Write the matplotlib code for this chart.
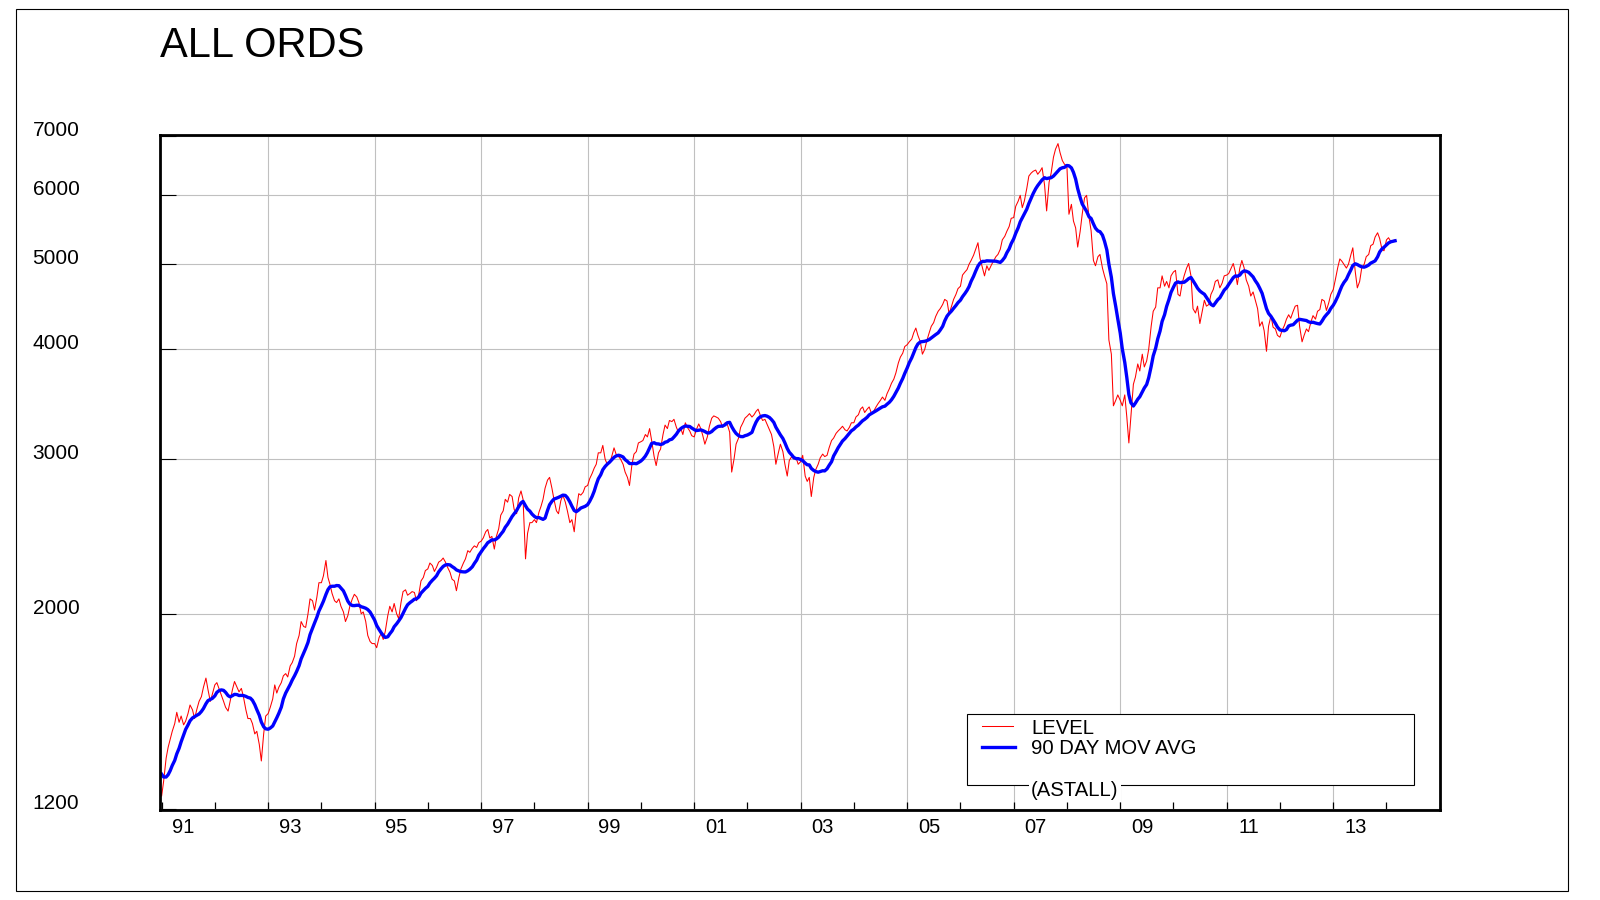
import datetime as dt
import matplotlib
matplotlib.use('Agg')
import matplotlib.pyplot as plt
import matplotlib.dates as mdates
import matplotlib.ticker as mticker
from matplotlib.lines import Line2D
from matplotlib.patches import Rectangle
import pandas as pd

plt.rcParams['font.family'] = ['Liberation Sans', 'DejaVu Sans']

## DADOS - leituras do indice ALL ORDS no dia 1 e 15 de cada mes (a partir de 15/08/1990)
lvl_1990 = [1390, 1370, 1330, 1300, 1290, 1320, 1310, 1300, 1290]
lvl_1991 = [1240, 1290, 1370, 1410, 1440, 1470, 1500, 1545, 1505, 1530, 1495, 1510,
            1540, 1575, 1555, 1520, 1560, 1590, 1610, 1650, 1690, 1640, 1590, 1620]
lvl_1992 = [1660, 1670, 1640, 1615, 1590, 1565, 1550, 1590, 1640, 1675, 1650, 1630,
            1645, 1610, 1555, 1520, 1520, 1500, 1460, 1470, 1420, 1360, 1460, 1530]
lvl_1993 = [1540, 1565, 1600, 1660, 1625, 1650, 1670, 1700, 1710, 1695, 1745, 1760,
            1790, 1850, 1890, 1960, 1935, 1930, 2000, 2080, 2070, 2020, 2090, 2170]
lvl_1994 = [2170, 2210, 2300, 2200, 2160, 2110, 2070, 2060, 2080, 2040, 2010, 1960,
            1990, 2040, 2080, 2105, 2090, 2060, 2000, 2010, 1960, 1890, 1860, 1850]
lvl_1995 = [1850, 1830, 1880, 1900, 1870, 1910, 1990, 2040, 2010, 2055, 2000, 1975,
            2060, 2120, 2130, 2100, 2110, 2120, 2115, 2070, 2110, 2180, 2200, 2240]
lvl_1996 = [2250, 2285, 2270, 2235, 2260, 2290, 2300, 2315, 2290, 2260, 2230, 2190,
            2180, 2125, 2200, 2250, 2285, 2310, 2360, 2350, 2375, 2390, 2380, 2410]
lvl_1997 = [2420, 2440, 2480, 2495, 2440, 2450, 2370, 2450, 2500, 2590, 2620, 2700,
            2680, 2735, 2720, 2630, 2600, 2710, 2760, 2700, 2310, 2470, 2540, 2540]
lvl_1998 = [2560, 2540, 2610, 2650, 2700, 2780, 2840, 2860, 2780, 2700, 2620, 2600,
            2690, 2730, 2680, 2620, 2540, 2560, 2480, 2620, 2740, 2730, 2750, 2790]
lvl_1999 = [2800, 2850, 2890, 2930, 2960, 3050, 3050, 3110, 3000, 2960, 2970, 3020,
            3090, 3040, 3020, 3000, 2960, 2900, 2860, 2800, 2960, 3040, 3060, 3130]
lvl_2000 = [3140, 3150, 3200, 3180, 3250, 3150, 3020, 2950, 3050, 3080, 3200, 3280,
            3250, 3320, 3310, 3330, 3260, 3220, 3250, 3200, 3300, 3260, 3230, 3190]
lvl_2001 = [3180, 3240, 3290, 3250, 3190, 3120, 3180, 3270, 3340, 3360, 3350, 3340,
            3310, 3260, 3300, 3290, 3220, 2900, 3000, 3120, 3170, 3260, 3300, 3340]
lvl_2002 = [3360, 3380, 3350, 3370, 3400, 3420, 3360, 3320, 3330, 3290, 3240, 3200,
            3100, 2960, 3050, 3120, 3060, 2960, 2870, 2990, 3020, 3000, 3010, 2960]
lvl_2003 = [2980, 3030, 2870, 2830, 2860, 2720, 2860, 2920, 2960, 3010, 3040, 3020,
            3030, 3090, 3150, 3170, 3210, 3230, 3250, 3270, 3240, 3230, 3260, 3300]
lvl_2004 = [3300, 3350, 3370, 3420, 3440, 3390, 3420, 3440, 3380, 3400, 3440, 3470,
            3500, 3530, 3500, 3560, 3610, 3660, 3700, 3760, 3860, 3920, 3960, 4030]
lvl_2005 = [4050, 4080, 4110, 4180, 4230, 4150, 4080, 3950, 4000, 4090, 4180, 4250,
            4290, 4360, 4420, 4450, 4500, 4560, 4540, 4390, 4480, 4560, 4620, 4690]
lvl_2006 = [4720, 4860, 4900, 4930, 5000, 5050, 5120, 5200, 5290, 5080, 4950, 4850,
            4980, 4920, 4990, 5040, 5100, 5130, 5200, 5330, 5380, 5450, 5520, 5640]
lvl_2007 = [5650, 5820, 5900, 5990, 5800, 5900, 6100, 6300, 6350, 6380, 6400, 6330,
            6380, 6440, 6150, 5750, 6200, 6350, 6620, 6760, 6860, 6700, 6560, 6500]
lvl_2008 = [6470, 5700, 5850, 5600, 5500, 5230, 5450, 5700, 5950, 5990, 5650, 5460,
            5050, 4980, 5100, 5130, 4950, 4850, 4750, 4100, 3950, 3450, 3500, 3550]
lvl_2009 = [3500, 3450, 3550, 3350, 3130, 3350, 3650, 3720, 3850, 3780, 3950, 3820,
            3880, 4000, 4250, 4420, 4470, 4700, 4700, 4850, 4720, 4780, 4700, 4850]
lvl_2010 = [4900, 4920, 4620, 4600, 4750, 4850, 4950, 5010, 4850, 4450, 4400, 4480,
            4280, 4400, 4550, 4480, 4500, 4620, 4680, 4780, 4800, 4700, 4760, 4850]
lvl_2011 = [4860, 4880, 4950, 5010, 4900, 4740, 4950, 5050, 4950, 4800, 4720, 4600,
            4650, 4560, 4450, 4250, 4300, 4200, 3980, 4250, 4370, 4240, 4220, 4150]
lvl_2012 = [4130, 4200, 4260, 4330, 4380, 4340, 4420, 4480, 4490, 4250, 4080, 4150,
            4220, 4190, 4300, 4370, 4330, 4420, 4440, 4560, 4540, 4430, 4520, 4620]
lvl_2013 = [4680, 4800, 4960, 5070, 5040, 5000, 4950, 5000, 5120, 5220, 4900, 4700,
            4780, 4950, 5000, 5100, 5130, 5250, 5270, 5370, 5430, 5350, 5200, 5180]
lvl_2014 = [5330, 5360, 5300, 5320, 5330]

y_ticks = [1200, 2000, 3000, 4000, 5000, 6000, 7000]
label_years = list(range(1991, 2014, 2))

level = (lvl_1990 + lvl_1991 + lvl_1992 + lvl_1993 + lvl_1994 + lvl_1995 + lvl_1996 +
         lvl_1997 + lvl_1998 + lvl_1999 + lvl_2000 + lvl_2001 + lvl_2002 + lvl_2003 +
         lvl_2004 + lvl_2005 + lvl_2006 + lvl_2007 + lvl_2008 + lvl_2009 + lvl_2010 +
         lvl_2011 + lvl_2012 + lvl_2013 + lvl_2014)
datas = pd.date_range('1990-08-15', periods=len(level), freq='SMS')
serie = pd.Series(level, index=datas)
media = serie.rolling(10).mean()  # ~90 dias uteis

fig = plt.figure(figsize=(16, 9), dpi=100)
ax = fig.add_axes([0.1, 0.1, 0.8, 0.75])

# grade vertical nos anos impares
for ano in range(1993, 2014, 2):
    ax.axvline(dt.datetime(ano, 1, 1), color='#c0c0c0', lw=0.8, zorder=1)

ax.plot(serie.index, serie.values, color='#ff0000', lw=0.75, zorder=3)
ax.plot(media.index, media.values, color='#0000ff', lw=2.4, zorder=4)

ax.set_yscale('log')
ax.set_ylim(1196, 7016)
ax.set_yticks(y_ticks)
ax.set_yticklabels([str(v) for v in y_ticks])
ax.yaxis.set_minor_locator(mticker.NullLocator())
ax.grid(axis='y', color='#c0c0c0', lw=0.8, zorder=1)
ax.tick_params(axis='y', direction='in', length=11.3, width=0.8, pad=58, labelsize=15)
for lab in ax.get_yticklabels():
    lab.set_va('baseline')

ax.set_xlim(dt.datetime(1990, 12, 21), dt.datetime(2015, 1, 3))
ax.xaxis.set_major_locator(mticker.FixedLocator(
    mdates.date2num([dt.datetime(a, 1, 1) for a in range(1991, 2016)])))
ax.xaxis.set_major_formatter(mticker.NullFormatter())
ax.xaxis.set_minor_locator(mticker.FixedLocator(
    mdates.date2num([dt.datetime(a, 6, 1) for a in label_years])))
ax.xaxis.set_minor_formatter(mdates.DateFormatter('%y'))
ax.tick_params(axis='x', which='major', direction='in', length=6, width=0.9)
ax.tick_params(axis='x', which='minor', length=0, pad=6, labelsize=14.5)

for sp in ax.spines.values():
    sp.set_linewidth(2)
    sp.set_zorder(5)

# titulo
fig.text(160 / 1600, 1 - 57 / 900, 'ALL ORDS', fontsize=30, ha='left', va='baseline')

# legenda
def fx(px):
    return px / 1600

def fy(py):
    return 1 - py / 900

fig.add_artist(Rectangle((fx(967), fy(785)), fx(1414) - fx(967), fy(714) - fy(785),
                         transform=fig.transFigure, facecolor='white', edgecolor='black',
                         lw=0.8, zorder=6))
fig.add_artist(Line2D([fx(982), fx(1013)], [fy(726), fy(726)], transform=fig.transFigure,
                      color='#ff0000', lw=0.75, zorder=7))
fig.add_artist(Line2D([fx(982), fx(1015)], [fy(747), fy(747)], transform=fig.transFigure,
                      color='#0000ff', lw=2.4, zorder=7))
fig.text(fx(1031), fy(734), 'LEVEL', fontsize=14.6, va='baseline', zorder=8)
fig.text(fx(1031), fy(754), '90 DAY MOV AVG', fontsize=14.6, va='baseline', zorder=8)
fig.text(fx(1031), fy(796), '(ASTALL)', fontsize=14.6, va='baseline', zorder=8,
         bbox=dict(boxstyle='square,pad=0.1', facecolor='white', edgecolor='none'))

# moldura externa
fig.add_artist(Rectangle((fx(16), fy(891)), fx(1568) - fx(16), fy(9) - fy(891),
                         transform=fig.transFigure, fill=False, edgecolor='black',
                         lw=0.8, zorder=9))

fig.savefig('out.png', dpi=100)
